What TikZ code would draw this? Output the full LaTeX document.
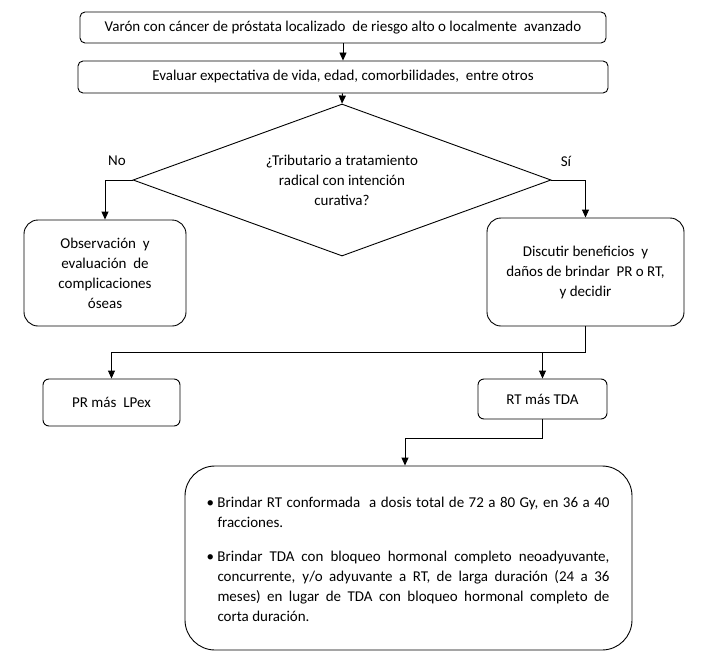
\documentclass[tikz,border=0pt]{standalone}
\usepackage{fontspec}
\setmainfont{Carlito}
\usetikzlibrary{arrows.meta,shapes.geometric}
\begin{document}
\begin{tikzpicture}[x=1pt,y=-1pt,
  every node/.style={font=\fontsize{15}{20}\selectfont},
  box/.style={draw,line width=0.9pt,rounded corners=#1,align=center,inner sep=0pt},
  box/.default=5pt,
  arr/.style={draw,line width=0.9pt,-{Triangle[length=8pt,width=7pt]}},
  ln/.style={draw,line width=0.9pt}]
\useasboundingbox (0,0) rectangle (709,669);
\node[box,minimum width=526pt,minimum height=31pt] (b1) at (343,27.5)
  {Varón con cáncer de próstata localizado\ \ de riesgo alto o localmente\ \ avanzado};
\node[box,minimum width=530pt,minimum height=32pt] (b2) at (343,77)
  {Evaluar expectativa de vida, edad, comorbilidades,\ \ entre otros};
\node[draw,line width=0.9pt,diamond,aspect=2.8,minimum width=418pt,minimum height=152pt,inner sep=0pt,align=center] (dia) at (342,180)
  {¿Tributario a tratamiento\\radical con intención\\curativa?};
\node (no) at (117,161) {No};
\node (si) at (566,161) {Sí};
\node[box=14pt,minimum width=162pt,minimum height=106pt] (obs) at (105,273)
  {Observación\ \ y\\evaluación\ \ de\\complicaciones\\óseas};
\node[box=14pt,minimum width=197pt,minimum height=108pt] (disc) at (585.5,272)
  {Discutir beneficios\ \ y\\daños de brindar\ \ PR o RT,\\y decidir};
\node[box=6pt,minimum width=137pt,minimum height=47pt] (pr) at (111.5,402.5) {PR más\ \ LPex};
\node[box=6pt,minimum width=129pt,minimum height=40pt] (rt) at (542.5,399) {RT más TDA};
\node[box=30pt,minimum width=447pt,minimum height=184pt] (bot) at (408.5,558) {};
\node[text width=403pt,align=justify,inner sep=0pt] (bt) at (408,559) {%
  \hangindent=11pt\hangafter=1\noindent\makebox[11pt][l]{\textbullet}Brindar RT conformada\ \ a dosis total de 72 a 80 Gy, en 36 a 40 fracciones.\par
  \vspace{14pt}
  \hangindent=11pt\hangafter=1\noindent\makebox[11pt][l]{\textbullet}Brindar TDA con bloqueo hormonal completo neoadyuvante, concurrente, y/o adyuvante a RT, de larga duración (24 a 36 meses) en lugar de TDA con bloqueo hormonal completo de\linebreak corta duración.\par};
\draw[arr] (b1) -- (b2);
\draw[arr] (b2) -- (dia.north);
\draw[arr] (dia.west) -| (obs.north);
\draw[arr] (dia.east) -| (disc.north);
\draw[ln] (disc.south) -- ++(0,26) coordinate (j);
\draw[arr] (j) -| (pr.north);
\draw[arr] (rt.north |- j) -- (rt.north);
\draw[arr] (rt.south) -- ++(0,19) -| ([xshift=-3.5pt]bot.north);
\end{tikzpicture}
\end{document}
